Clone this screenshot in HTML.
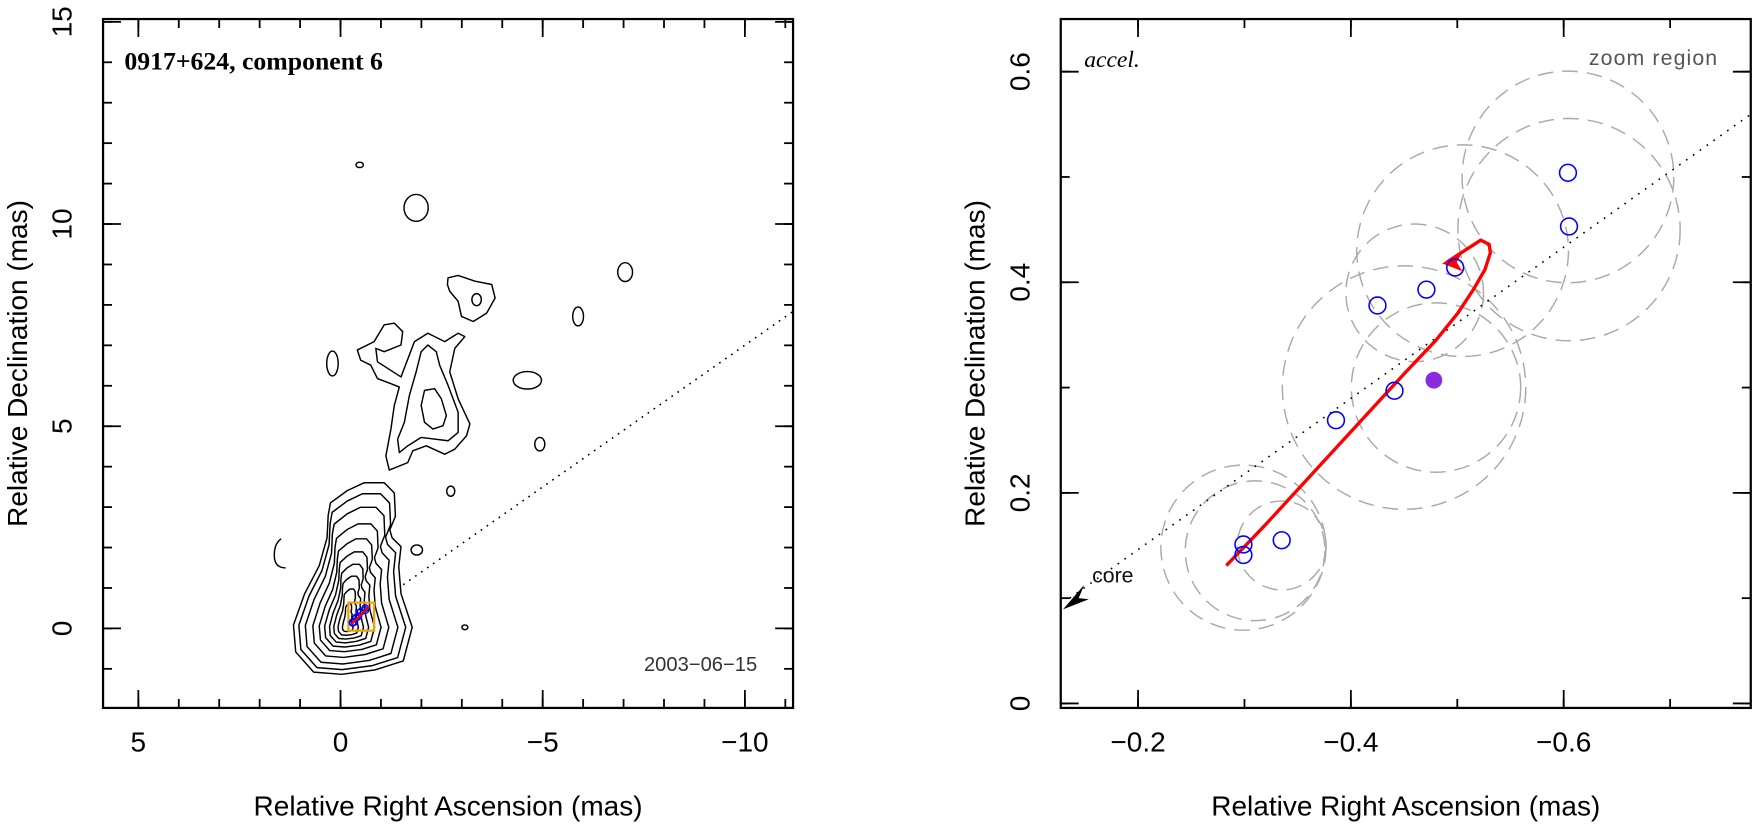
<!DOCTYPE html>
<html><head><meta charset="utf-8">
<style>
html,body{margin:0;padding:0;background:#fff;}
svg{display:block;font-family:"Liberation Sans",sans-serif;}
</style></head>
<body>
<svg id="fig" width="1753" height="826" viewBox="0 0 1565 737.4" preserveAspectRatio="none" xmlns="http://www.w3.org/2000/svg">
<g id="left"></g>
<g id="right"></g>
</svg>
<script>
// ---- Left panel data ----
const leftXTicks = [5, 0, -5, -10];
const leftYTicks = [0, 5, 10, 15];
const leftFitRA  = [-0.30,-0.30,-0.34,-0.39,-0.44,-0.47,-0.50,-0.61,-0.61];
const leftFitDec = [0.15, 0.14, 0.16, 0.27, 0.30, 0.39, 0.41, 0.50, 0.45];
// ---- Right panel data ----
const rightXTicks = [-0.2, -0.4, -0.6];
const rightYTicks = [0, 0.2, 0.4, 0.6];
const compRA  = [-0.299,-0.299,-0.335,-0.386,-0.425,-0.471,-0.441,-0.498,-0.604,-0.605];
const compDec = [0.151, 0.141, 0.155, 0.269, 0.378, 0.393, 0.297, 0.414, 0.504, 0.453];
const refRA = [-0.478];
const refDec = [0.307];
// dashed error circles: centre RA, Dec, radius (mas)
const circRA  = [-0.299,-0.31,-0.335,-0.45,-0.48,-0.46,-0.505,-0.604,-0.605];
const circDec = [0.148, 0.145, 0.150, 0.30, 0.30, 0.39, 0.43, 0.50, 0.45];
const circR   = [0.078, 0.066, 0.042, 0.115, 0.08, 0.065, 0.10, 0.10, 0.105];
// fitted acceleration track
const trackRA  = [-0.283,-0.32,-0.37,-0.42,-0.45,-0.48,-0.50,-0.515,-0.526,-0.531,-0.530,-0.522,-0.49];
const trackDec = [0.131, 0.17, 0.225,0.28, 0.313,0.345,0.37, 0.393,0.412,0.428,0.436,0.440,0.419];

const NS="http://www.w3.org/2000/svg";
function mk(parent,tag,attrs,text){const e=document.createElementNS(NS,tag);for(const k in attrs)e.setAttribute(k,attrs[k]);if(text!==undefined)e.textContent=text;parent.appendChild(e);return e;}

// ============ LEFT ============
const L=document.getElementById('left');
const lx=v=>304-36.1*v, ly=v=>561-36.1*v;
const LB={x0:92,x1:708,y0:17,y1:632};
const zp=(x,y)=>[202+0.3*x,116+0.3*y];
function poly(pts,name){const p=pts.map(q=>zp(q[0],q[1]));let d='M'+p.map(q=>q[0].toFixed(1)+','+q[1].toFixed(1)).join(' L')+' Z';
 const e=mk(L,'path',{d:d,fill:'none',stroke:'#000','stroke-width':1.3,'stroke-linejoin':'round'});}
function ell(cx,cy,rx,ry,name){const p=zp(cx,cy);const e=mk(L,'ellipse',{cx:p[0],cy:p[1],rx:rx*0.3,ry:ry*0.3,fill:'none',stroke:'#000','stroke-width':1.3});}
poly([[390,655],[440,630],[470,580],[500,575],[525,600],[520,640],[470,660],[445,650],[450,690],[520,735],[560,630],[600,605],[650,630],[690,605],[710,615],[680,650],[665,720],[690,800],[725,875],[715,910],[680,950],[650,965],[595,940],[555,955],[540,990],[485,1012],[475,970],[490,890],[500,820],[515,765],[490,755],[450,740],[430,700],[400,685]],'jet-contour-outer');
poly([[600,640],[625,660],[635,700],[660,760],[690,840],[690,900],[660,925],[580,915],[540,940],[515,960],[510,920],[530,870],[545,790],[565,720],[580,660]],'jet-contour-mid');
poly([[590,775],[620,770],[640,800],[655,850],[645,880],[615,890],[590,870],[580,820]],'jet-contour-inner');
poly([[660,440],[690,433],[740,450],[790,460],[800,500],[775,545],[735,570],[700,555],[690,510],[665,480],[658,460]],'knot-contour');
ell(745,505,14,18,'knot-inner');
ell(397,104,11,8,'blob'); ell(565,232,36,40,'blob'); ell(316,695,17,37,'blob');
ell(1047,555,16,28,'blob'); ell(896,745,42,26,'blob'); ell(933,935,15,20,'blob');
ell(668,1075,12,15,'blob'); ell(567,1250,17,15,'blob');
ell(1187,423,22,28,'blob'); ell(710,1480,9,7,'blob');
mk(L,'path',{d:'M251,481 Q244,486 245,498 Q246,507 255,507',fill:'none',stroke:'#000','stroke-width':1.3});
// core nested contours
const coreOuter=[[295,449],[310,438],[325,431],[343,431],[352,440],[353,461],[348,473],[350,480],[358,488],[356,506],[358,530],[368,560],[360,590],[335,598],[305,602],[280,600],[264,582],[262,558],[272,530],[285,505],[292,480],[293,460]];
const coreScale=[1,0.9,0.78,0.64,0.52,0.42,0.33,0.25,0.17,0.09];
coreScale.forEach((s)=>{const cx=310,cy=560;const p=coreOuter.map(q=>{const sy=q[1]<cy?Math.pow(s,0.75):s;return [cx+(q[0]-cx)*s,cy+(q[1]-cy)*sy];});
 const e=mk(L,'path',{d:'M'+p.map(q=>q[0].toFixed(1)+','+q[1].toFixed(1)).join(' L')+' Z',fill:'none',stroke:'#000','stroke-width':1.3,'stroke-linejoin':'round'});
 });
mk(L,'line',{x1:360,y1:522,x2:708,y2:278,stroke:'#000','stroke-width':1.4,'stroke-dasharray':'1.5,5'});
const ob=mk(L,'rect',{x:311,y:538,width:23,height:25,fill:'none',stroke:'#f5a000','stroke-width':2});

leftFitRA.forEach((v,i)=>{const e=mk(L,'circle',{cx:lx(v),cy:ly(leftFitDec[i]),r:3,fill:'none',stroke:'#00f','stroke-width':1.2});});
mk(L,'path',{d:'M314,557 L326,545 L330,541',fill:'none',stroke:'#f00','stroke-width':2});
// axes
function axes(G,B,xt,yt,fx,fy,xminor,yminor,fmt){
 const f=mk(G,'rect',{x:B.x0,y:B.y0,width:B.x1-B.x0,height:B.y1-B.y0,fill:'none',stroke:'#000','stroke-width':2});
 
 xminor.forEach(v=>{const x=fx(v);if(x<B.x0||x>B.x1)return;mk(G,'line',{x1:x,y1:B.y1,x2:x,y2:B.y1-8,stroke:'#000','stroke-width':1.6});mk(G,'line',{x1:x,y1:B.y0,x2:x,y2:B.y0+8,stroke:'#000','stroke-width':1.6});});
 yminor.forEach(v=>{const y=fy(v);if(y<B.y0||y>B.y1)return;mk(G,'line',{x1:B.x0,y1:y,x2:B.x0+8,y2:y,stroke:'#000','stroke-width':1.6});mk(G,'line',{x1:B.x1,y1:y,x2:B.x1-8,y2:y,stroke:'#000','stroke-width':1.6});});
 xt.forEach(v=>{const x=fx(v);mk(G,'line',{x1:x,y1:B.y1,x2:x,y2:B.y1-16,stroke:'#000','stroke-width':1.6});mk(G,'line',{x1:x,y1:B.y0,x2:x,y2:B.y0+16,stroke:'#000','stroke-width':1.6});
  const t=mk(G,'text',{x:x,y:B.y1+39,'text-anchor':'middle','font-size':25},fmt(v).replace('-','\u2212'));});
 yt.forEach(v=>{const y=fy(v);mk(G,'line',{x1:B.x0,y1:y,x2:B.x0+16,y2:y,stroke:'#000','stroke-width':1.6});mk(G,'line',{x1:B.x1,y1:y,x2:B.x1-16,y2:y,stroke:'#000','stroke-width':1.6});
  const t=mk(G,'text',{x:B.x0-28,y:y,'text-anchor':'middle','font-size':25,transform:`rotate(-90 ${B.x0-28} ${y})`},fmt(v));});
 const xl=mk(G,'text',{x:(B.x0+B.x1)/2,y:728,'text-anchor':'middle','font-size':25},'Relative Right Ascension (mas)');
 const yx=B.x0-68,yy=(B.y0+B.y1)/2;
 const yl=mk(G,'text',{x:yx,y:yy,'text-anchor':'middle','font-size':25,transform:`rotate(-90 ${yx} ${yy})`},'Relative Declination (mas)');
}
const lminX=[];for(let v=-11;v<=6;v++)lminX.push(v);
const lminY=[];for(let v=-2;v<=15;v++)lminY.push(v);
axes(L,LB,leftXTicks,leftYTicks,lx,ly,lminX,lminY,v=>String(v));
const t1=mk(L,'text',{x:111,y:62,'font-size':23,'font-weight':'bold','font-family':'"Liberation Serif",serif'},'0917+624, component 6');
const t2=mk(L,'text',{x:676,y:599,'text-anchor':'end','font-size':18,fill:'#333'},'2003\u221206\u221215');

// ============ RIGHT ============
const R=document.getElementById('right');
const RB={x0:947,x1:1563,y0:17,y1:632};
const rx=v=>826-950*v, ry=v=>628-940*v;
circR.forEach((r,i)=>{const e=mk(R,'circle',{cx:rx(circRA[i]),cy:ry(circDec[i]),r:r*945,fill:'none',stroke:'#aaa','stroke-width':1.3,'stroke-dasharray':'14,8'});
 });
mk(R,'line',{x1:955,y1:534,x2:1563,y2:102,stroke:'#000','stroke-width':1.4,'stroke-dasharray':'1.5,6'});
const ca=mk(R,'path',{d:'M949,544 L968,522 L963,534 L972,535 Z',fill:'#000'});
const ct=mk(R,'text',{x:975,y:520,'font-size':19,fill:'#111'},'core');
let d='M'+trackRA.map((v,i)=>rx(v).toFixed(1)+','+ry(trackDec[i]).toFixed(1)).join(' L');
const tr=mk(R,'path',{d:d,fill:'none',stroke:'#f00','stroke-width':3,'stroke-linejoin':'round'});
const ex=rx(trackRA[trackRA.length-1]),ey=ry(trackDec[trackDec.length-1]);
const ah=mk(R,'path',{d:`M${ex-4},${ey+1} L${ex+14},${ey-9} L${ex+9},${ey} L${ex+14},${ey+8} Z`,fill:'#f00'});
compRA.forEach((v,i)=>{const e=mk(R,'circle',{cx:rx(v),cy:ry(compDec[i]),r:7.5,fill:'none',stroke:'#00f','stroke-width':1.4});});
refRA.forEach((v,i)=>{const e=mk(R,'circle',{cx:rx(v),cy:ry(refDec[i]),r:7.5,fill:'#8a2be2'});});
const rminX=[];for(let k=-1;k>=-8;k--)rminX.push(k/10);
const rminY=[];for(let k=0;k<=6;k++)rminY.push(k/10);
axes(R,RB,rightXTicks,rightYTicks,rx,ry,rminX,rminY,v=>v===0?'0':v.toFixed(1));
const t3=mk(R,'text',{x:968,y:60,'font-size':21,'font-style':'italic','font-family':'"Liberation Serif",serif'},'accel.');
const t4=mk(R,'text',{x:1534,y:58,'text-anchor':'end','font-size':19,fill:'#555','letter-spacing':'1'},'zoom region');
</script>
</body></html>
